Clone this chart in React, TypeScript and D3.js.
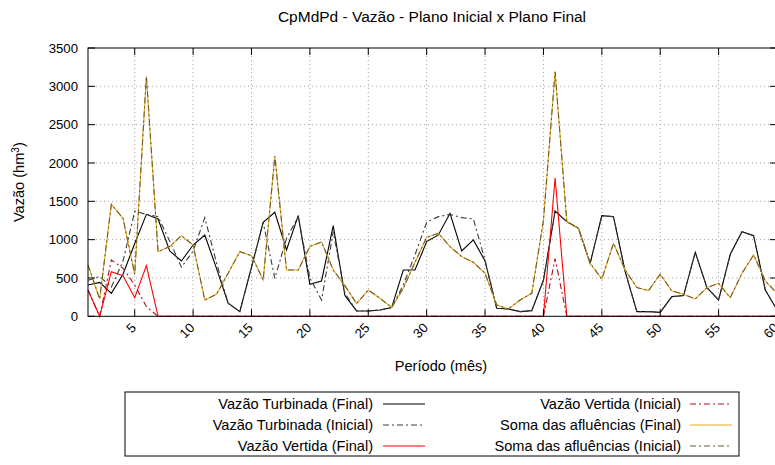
import React from 'react'
import * as d3 from 'd3'

const periods = d3.range(1, 61)

const turbFinal = [
  409, 443, 300, 548, 950, 1330, 1270, 852, 722, 930,
  1061, 626, 170, 61, 640, 1226, 1357, 865, 1313, 417,
  461, 1183, 270, 70, 70, 83, 113, 604, 604, 974,
  1061, 1343, 852, 996, 722, 104, 96, 61, 74, 470,
  1374, 1235, 1148, 691, 1313, 1300, 583, 61, 61, 52,
  257, 270, 835, 374, 213, 809, 1104, 1052, 343, 83,
]

const turbInicial = [
  470, 520, 380, 720, 1370, 1330, 1300, 980, 640, 850,
  1287, 700, 170, 61, 640, 1226, 496, 1017, 1300, 500,
  213, 1104, 300, 70, 70, 83, 113, 409, 800, 1226,
  1300, 1330, 1287, 1270, 730, 104, 96, 61, 74, 470,
  1374, 1235, 1148, 691, 1313, 1300, 583, 61, 61, 52,
  257, 270, 835, 374, 213, 809, 1104, 1052, 343, 83,
]

const vertFinal = [
  343, 0, 583, 530, 243, 661, 0, 0, 0, 0,
  0, 0, 0, 0, 0, 0, 0, 0, 0, 0,
  0, 0, 0, 0, 0, 0, 0, 0, 0, 0,
  0, 0, 0, 0, 0, 0, 0, 0, 0, 0,
  1804, 0, 0, 0, 0, 0, 0, 0, 0, 0,
  0, 0, 0, 0, 0, 0, 0, 0, 0, 0,
]

const vertInicial = [
  343, 0, 735, 626, 409, 126, 0, 0, 0, 0,
  0, 0, 0, 0, 0, 0, 0, 0, 0, 0,
  0, 0, 0, 0, 0, 0, 0, 0, 0, 0,
  0, 0, 0, 0, 0, 0, 0, 0, 0, 0,
  752, 0, 0, 0, 0, 0, 0, 0, 0, 0,
  0, 0, 0, 0, 0, 0, 0, 0, 0, 0,
]

const somaFinal = [
  670, 226, 1461, 1278, 548, 3130, 843, 909, 1052, 930,
  213, 287, 561, 843, 791, 474, 2090, 604, 604, 910,
  970, 604, 400, 165, 343, 235, 117, 365, 704, 1030,
  1083, 909, 778, 704, 561, 148, 96, 213, 300, 1250,
  3190, 1235, 1148, 691, 487, 952, 604, 374, 335, 548,
  330, 287, 226, 374, 430, 243, 561, 800, 461, 300,
]
const somaInicial = somaFinal.slice()

const yTicks = [0, 500, 1000, 1500, 2000, 2500, 3000, 3500]
const xTicks = [5, 10, 15, 20, 25, 30, 35, 40, 45, 50, 55, 60]

const series = [
  { name: 'Vazão Turbinada (Final)', values: turbFinal, color: '#000000', dash: '' },
  { name: 'Vazão Turbinada (Inicial)', values: turbInicial, color: '#3a3a3a', dash: '6,3,2,3' },
  { name: 'Vazão Vertida (Final)', values: vertFinal, color: '#ff0000', dash: '' },
  { name: 'Vazão Vertida (Inicial)', values: vertInicial, color: '#b01020', dash: '6,3,2,3' },
  { name: 'Soma das afluências (Final)', values: somaFinal, color: '#e8a820', dash: '' },
  { name: 'Soma das afluências (Inicial)', values: somaInicial, color: '#6e5c2c', dash: '6,3,2,3' },
]

const W = 775
const H = 465
const left = 88
const right = 777
const top = 48
const bottom = 316.3
const font = 'Liberation Sans, Arial, Helvetica, sans-serif'
const textSize = 14.6
const numSize = 13.2

export default function App() {
  const x = d3.scaleLinear().domain([1, 60]).range([left, right])
  const y = d3.scaleLinear().domain([0, 3500]).range([bottom, top])
  const line = d3
    .line<number>()
    .x((d, i) => x(periods[i]))
    .y((d) => y(d))

  // legend layout: two columns, three rows
  const legendRows = [404, 425, 446]

  return (
    <svg
      width={W}
      height={H}
      style={{ position: 'absolute', left: 0, top: 0, background: '#fff' }}
      fontFamily={font}
    >
      <rect x={0} y={0} width={W} height={H} fill="#fff" />
      <text x={432} y={22} textAnchor="middle" fontSize={15.5}>
        CpMdPd - Vazão - Plano Inicial x Plano Final
      </text>

      {/* grid */}
      {yTicks.slice(1, -1).map((t) => (
        <line key={'gy' + t} x1={left} x2={right} y1={y(t)} y2={y(t)} stroke="#a0a0a0" strokeWidth={1} strokeDasharray="1,3" />
      ))}
      {xTicks.slice(0, -1).map((t) => (
        <line key={'gx' + t} x1={x(t)} x2={x(t)} y1={top} y2={bottom} stroke="#a0a0a0" strokeWidth={1} strokeDasharray="1,3" />
      ))}

      {/* series */}
      {series.map((s) => (
        <path key={s.name} d={line(s.values) || ''} fill="none" stroke={s.color} strokeWidth={1.1} strokeDasharray={s.dash || undefined} />
      ))}

      {/* frame and ticks */}
      <rect x={left} y={top} width={right - left} height={bottom - top} fill="none" stroke="#000" strokeWidth={1} />
      {yTicks.map((t) => (
        <g key={'ty' + t}>
          <line x1={left} x2={left + 7} y1={y(t)} y2={y(t)} stroke="#000" />
          <line x1={right - 7} x2={right} y1={y(t)} y2={y(t)} stroke="#000" />
          <text x={78} y={y(t)} dy="0.35em" textAnchor="end" fontSize={numSize}>
            {t}
          </text>
        </g>
      ))}
      {xTicks.map((t) => (
        <g key={'tx' + t}>
          <line x1={x(t)} x2={x(t)} y1={bottom} y2={bottom - 7} stroke="#000" />
          <line x1={x(t)} x2={x(t)} y1={top} y2={top + 7} stroke="#000" />
          <text
            transform={`translate(${x(t) - 1},${bottom + 9}) rotate(-45)`}
            textAnchor="end"
            dy="0.35em"
            fontSize={numSize}
          >
            {t}
          </text>
        </g>
      ))}

      <text x={441} y={371} textAnchor="middle" fontSize={textSize}>
        Período (mês)
      </text>
      <text transform={`translate(24,${(top + bottom) / 2}) rotate(-90)`} textAnchor="middle" fontSize={textSize}>
        Vazão (hm<tspan dy={-5} fontSize={10}>3</tspan>
        <tspan dy={5}>)</tspan>
      </text>

      {/* legend */}
      <rect x={125} y={392} width={614} height={64} fill="#fff" stroke="#000" strokeWidth={1} />
      {series.map((s, i) => {
        const col = i < 3 ? 0 : 1
        const row = col === 0 ? i : i - 3
        const textX = col === 0 ? 373 : 681
        const lx = col === 0 ? 383 : 690
        const ly = legendRows[row]
        return (
          <g key={'lg' + s.name}>
            <text x={textX} y={ly} dy="0.35em" textAnchor="end" fontSize={textSize}>
              {s.name}
            </text>
            <line x1={lx} x2={lx + 42} y1={ly} y2={ly} stroke={s.color} strokeWidth={1.1} strokeDasharray={s.dash || undefined} />
          </g>
        )
      })}
    </svg>
  )
}
